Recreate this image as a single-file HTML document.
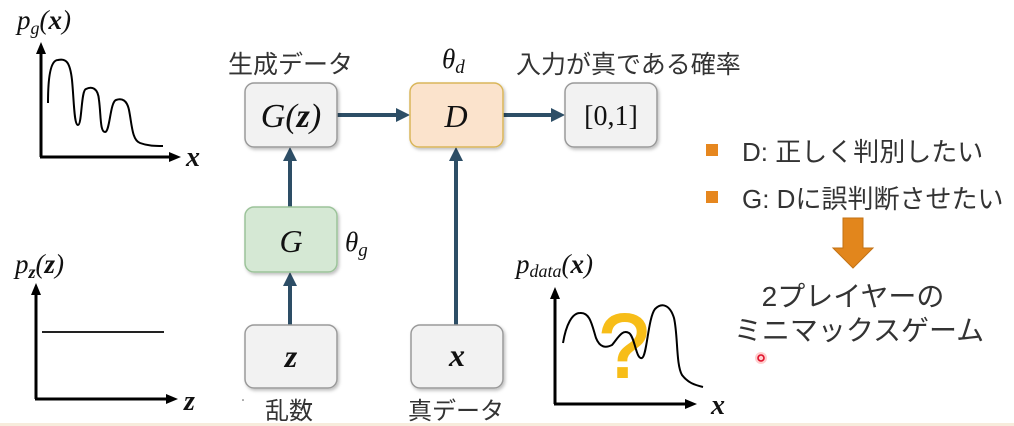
<!DOCTYPE html>
<html><head><meta charset="utf-8">
<style>
html,body{margin:0;padding:0;background:#fff;}
body{width:1014px;height:426px;overflow:hidden;position:relative;}
svg{position:absolute;left:0;top:0;}
.m{font-family:"Liberation Serif","DejaVu Serif",serif;font-style:italic;fill:#111;}
.mb{font-family:"Liberation Serif","DejaVu Serif",serif;font-style:italic;font-weight:bold;fill:#111;}
.j{font-family:"Liberation Sans","Noto Sans CJK JP",sans-serif;fill:#333;}
</style></head>
<body>
<svg width="1014" height="426" viewBox="0 0 1014 426" xmlns="http://www.w3.org/2000/svg">
<defs>
<filter id="sh" x="-10%" y="-10%" width="130%" height="130%">
<feDropShadow dx="1.5" dy="2" stdDeviation="1.5" flood-color="#000" flood-opacity="0.25"/>
</filter>
</defs>
<rect x="0" y="423" width="1014" height="3" fill="#f7ecdc"/>

<!-- Top-left graph p_g(x) -->
<text x="17" y="29" class="m" font-size="27">p<tspan font-size="18" dy="5">g</tspan><tspan dy="-5">(</tspan><tspan class="mb" font-weight="bold">x</tspan>)</text>
<line x1="41" y1="157" x2="41" y2="52" stroke="#000" stroke-width="3"/>
<polygon points="41,42 36,54 46,54" fill="#000"/>
<line x1="40" y1="157" x2="170" y2="157" stroke="#000" stroke-width="3"/>
<polygon points="181,157 169,152 169,162" fill="#000"/>
<text x="186" y="166" class="mb" font-size="28">x</text>
<path d="M48,103 C48,80 50,60 58,60 C66,58 70,62 72,80 C74,100 74,125 78,125 C82,125 81,90 86,89 C92,86 98,88 99,100 C101,115 100,132 105,132 C110,132 110,102 116,100 C122,98 127,100 129,110 C132,125 132,140 140,143 C148,146 155,146 163,146" fill="none" stroke="#000" stroke-width="2"/>

<!-- Bottom-left graph p_z(z) -->
<text x="15" y="273" class="m" font-size="27">p<tspan font-size="18" dy="5" class="mb">z</tspan><tspan dy="-5">(</tspan><tspan class="mb">z</tspan>)</text>
<line x1="36" y1="399" x2="36" y2="293" stroke="#000" stroke-width="3"/>
<polygon points="36,283 31,295 41,295" fill="#000"/>
<line x1="35" y1="399" x2="167" y2="399" stroke="#000" stroke-width="3"/>
<polygon points="178,399 166,394 166,404" fill="#000"/>
<text x="184" y="410" class="mb" font-size="28">z</text>
<line x1="42" y1="332" x2="164" y2="332" stroke="#222" stroke-width="2"/>

<!-- Connectors -->
<g stroke="#2d4e66" stroke-width="4" fill="none">
<line x1="290" y1="325" x2="290" y2="285"/>
<line x1="290" y1="207" x2="290" y2="160"/>
<line x1="337" y1="115" x2="398" y2="115"/>
<line x1="456" y1="325" x2="456" y2="160"/>
<line x1="503" y1="115" x2="553" y2="115"/>
</g>
<g fill="#2d4e66">
<polygon points="290,272 283,286 297,286"/>
<polygon points="290,147 283,161 297,161"/>
<polygon points="410,115 396,108 396,122"/>
<polygon points="456,147 449,161 463,161"/>
<polygon points="565,115 551,108 551,122"/>
</g>

<!-- Boxes -->
<rect x="245" y="83" width="92" height="64" rx="9" fill="#f2f2f2" stroke="#9a9a9a" stroke-width="1.5" filter="url(#sh)"/>
<text x="291" y="127" text-anchor="middle" class="m" font-size="34">G(<tspan class="mb">z</tspan>)</text>
<rect x="245" y="207" width="92" height="65" rx="9" fill="#d5e8d4" stroke="#9cc39a" stroke-width="1.5" filter="url(#sh)"/>
<text x="291" y="252" text-anchor="middle" class="m" font-size="32">G</text>
<rect x="245" y="325" width="92" height="63" rx="9" fill="#f2f2f2" stroke="#9a9a9a" stroke-width="1.5" filter="url(#sh)"/>
<text x="291" y="367" text-anchor="middle" class="mb" font-size="32">z</text>
<rect x="410" y="83" width="93" height="64" rx="9" fill="#fbe3cc" stroke="#d9b65a" stroke-width="1.5" filter="url(#sh)"/>
<text x="456" y="127" text-anchor="middle" class="m" font-size="32">D</text>
<rect x="565" y="83" width="92" height="64" rx="9" fill="#f2f2f2" stroke="#9a9a9a" stroke-width="1.5" filter="url(#sh)"/>
<text x="611" y="125" text-anchor="middle" font-family="Liberation Serif,serif" font-size="28" fill="#111">[0,1]</text>
<rect x="411" y="325" width="92" height="63" rx="9" fill="#f2f2f2" stroke="#9a9a9a" stroke-width="1.5" filter="url(#sh)"/>
<text x="457" y="366" text-anchor="middle" class="mb" font-size="32">x</text>

<!-- Labels -->
<text x="228" y="73" class="j" font-size="25">生成データ</text>
<text x="442" y="68" class="m" font-size="27">θ<tspan font-size="19" dy="5">d</tspan></text>
<text x="516" y="73" class="j" font-size="25">入力が真である確率</text>
<text x="345" y="251" class="m" font-size="27">θ<tspan font-size="19" dy="5">g</tspan></text>
<text x="265" y="419" class="j" font-size="24">乱数</text>
<text x="408" y="419" class="j" font-size="24">真データ</text>
<circle cx="243" cy="400" r="0.8" fill="#555"/>

<!-- p_data graph -->
<text x="516" y="273" class="m" font-size="27">p<tspan font-size="18" dy="4">data</tspan><tspan dy="-4">(</tspan><tspan class="mb">x</tspan>)</text>
<line x1="555" y1="404" x2="555" y2="298" stroke="#000" stroke-width="3"/>
<polygon points="555,287 550,299 560,299" fill="#000"/>
<line x1="554" y1="404" x2="686" y2="404" stroke="#000" stroke-width="3"/>
<polygon points="697,404 685,399 685,409" fill="#000"/>
<text x="711" y="414" class="mb" font-size="28">x</text>
<text x="599" y="377" font-family="Liberation Sans,sans-serif" font-size="90" fill="#f7bd18" stroke="#f7bd18" stroke-width="2">?</text>
<path d="M563,343 C566,325 572,313 580,313 C590,312 592,325 596,338 C600,348 606,348 612,345 C618,338 622,329 629,333 C635,337 636,360 642,358 C647,356 648,318 655,309 C662,302 670,305 674,318 C678,335 676,365 682,375 C688,383 695,385 703,387" fill="none" stroke="#000" stroke-width="2"/>

<!-- Right side -->
<rect x="706" y="144" width="12" height="12" fill="#e6871f"/>
<text x="742" y="161" class="j" font-size="26" fill="#444">D: 正しく判別したい</text>
<rect x="706" y="191" width="12" height="12" fill="#e6871f"/>
<text x="742" y="208" class="j" font-size="26" fill="#444">G: Dに誤判断させたい</text>
<polygon points="843,218 863,218 863,248 873,248 853,268 833,248 843,248" fill="#e2861c" stroke="#c27214" stroke-width="1"/>
<text x="853" y="306" text-anchor="middle" class="j" font-size="28" fill="#4a4a4a">2プレイヤーの</text>
<text x="859" y="340" text-anchor="middle" class="j" font-size="28" fill="#4a4a4a">ミニマックスゲーム</text>
<circle cx="761" cy="358" r="6" fill="#ff3a3a" opacity="0.25"/>
<circle cx="761" cy="358" r="3" fill="none" stroke="#e0102a" stroke-width="1.6"/>
</svg>
</body></html>
